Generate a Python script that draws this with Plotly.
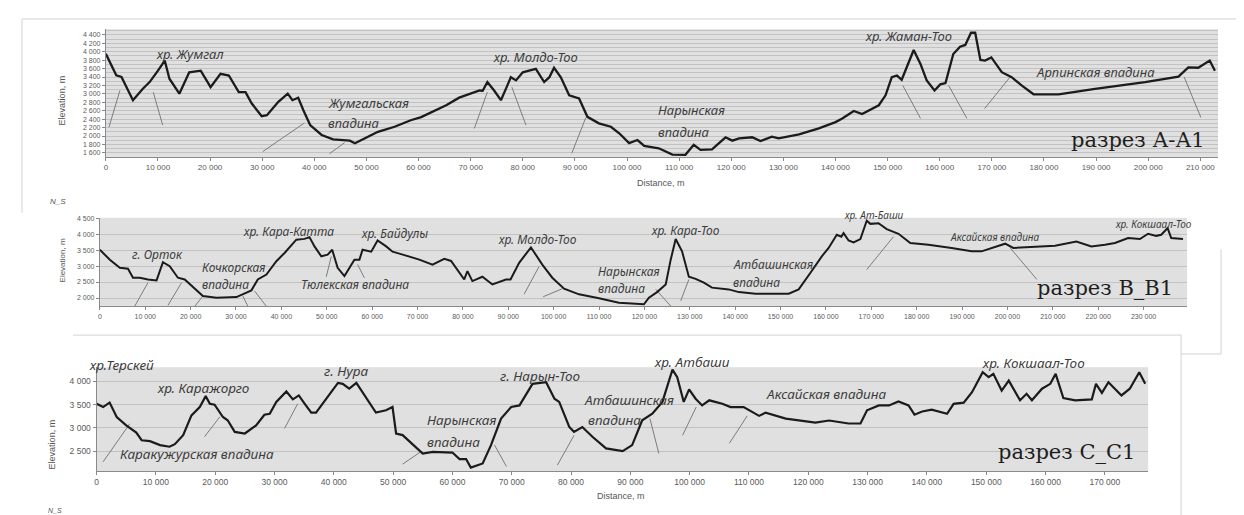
import plotly.graph_objects as go

W, H = 1244, 515

# ---------------- Panel A: разрез А-А1 ----------------
a_dist = [0, 2000, 3000, 5200, 7100, 8400, 10000, 11300, 12200, 14100, 16000, 18200, 20100, 22000,
          23600, 25500, 26800, 28000, 29900, 30900, 33100, 34900, 35800, 36900, 37900, 39200, 41400,
          43600, 46800, 47800, 50300, 52200, 55400, 58500, 60500, 62700, 65300, 67800, 70400, 71700,
          72300, 73200, 74500, 75800, 76900, 77700, 78700, 80000, 81200, 82500, 84100, 85100, 86000,
          87300, 88900, 90800, 92400, 94600, 96900, 98500, 100400, 102000, 103300, 106100, 108700,
          111200, 112800, 114100, 116300, 118900, 120200, 121500, 124000, 125600, 127800, 129100,
          133000, 136800, 140000, 141300, 143500, 145100, 148300, 149600, 150800, 151800, 152700,
          155000, 156300, 157500, 159000, 160100, 161100, 162600, 163900, 164900, 166000, 166800,
          167800, 168700, 169900, 171900, 173800, 175700, 178000, 182800, 189800, 199400, 205800,
          207700, 209600, 211800, 212800]
a_elev = [3950, 3440, 3400, 2850, 3120, 3280, 3550, 3790, 3360, 3005, 3510, 3550, 3160, 3475,
          3435, 3040, 3040, 2770, 2470, 2495, 2810, 3005, 2850, 2910, 2610, 2260, 2025,
          1920, 1890, 1830, 1985, 2100, 2220, 2375, 2450, 2570, 2730, 2910, 3020, 3080,
          3075, 3280, 3080, 2850, 3160, 3395, 3320, 3510, 3550, 3595, 3280, 3395, 3620,
          3395, 2965, 2890, 2455, 2300, 2220, 2065, 1830, 1905, 1765, 1710, 1560,
          1555, 1790, 1670, 1685, 1970, 1890, 1945, 1970, 1880, 1985, 1945,
          2040, 2180, 2330, 2415, 2595, 2520, 2730, 2965, 3395, 3435, 3335,
          4040, 3710, 3320, 3080, 3225, 3255, 3945, 4120, 4160, 4450, 4450,
          3805, 3790, 3865, 3515, 3395, 3200, 2990, 2990, 3120, 3280, 3410,
          3630, 3620, 3790, 3550]
a_leaders = [(2700, 3080, 600, 2210), (9100, 3040, 10900, 2260), (38100, 2310, 30100, 1630),
             (45800, 1840, 42900, 1580), (73200, 3040, 70700, 2180), (77900, 3160, 80600, 2260),
             (92100, 2440, 89400, 1590), (152900, 3200, 156300, 2420), (161700, 3200, 165200, 2420),
             (173500, 3400, 168600, 2650), (206900, 3400, 210100, 2440)]
a_labels = [("хр. Жумгал", 16100, 3950, "center"), ("Жумгальская", 42300, 2777, "left"),
            ("впадина", 42300, 2306, "left"), ("хр. Молдо-Тоо", 82500, 3870, "center"),
            ("Нарынская", 105600, 2612, "left"), ("впадина", 105600, 2101, "left"),
            ("хр. Жаман-Тоо", 154000, 4380, "center"), ("Арпинская впадина", 189800, 3530, "center")]

# ---------------- Panel B: разрез В_В1 ----------------
b_dist = [0, 2200, 4400, 6200, 7300, 8800, 10600, 12500, 13900, 15400, 17200, 18700, 22700, 25700,
          30100, 32600, 33400, 34800, 36700, 38900, 40700, 43300, 45100, 46200, 47300, 48800, 50200,
          51200, 52400, 53900, 56100, 57200, 57900, 59800, 61200, 63100, 64500, 66000, 70400, 73300,
          75900, 77400, 80300, 81000, 82100, 84300, 86500, 89500, 90500, 92400, 95000, 97500, 99700,
          102300, 105600, 110000, 114400, 119900, 121000, 122800, 124700, 125800, 126900, 128300,
          129800, 131300, 133100, 134900, 138600, 140800, 144500, 151800, 154000, 156600, 159100,
          160600, 162400, 163400, 163900, 165000, 166100, 167600, 169000, 169800, 171600, 173400,
          176000, 178600, 182600, 187700, 192100, 194300, 197300, 199500, 201300, 204600, 210500,
          215200, 218500, 221500, 223700, 226600, 229200, 231000, 232800, 233900, 235300, 236100,
          238700]
b_elev = [3510, 3200, 2945, 2915, 2635, 2635, 2580, 2550, 3120, 2995, 2635, 2580, 2060, 2010,
          2030, 2200, 2240, 2580, 2735, 3150, 3410, 3825, 3850, 3905, 3615, 3305, 3355,
          3510, 2945, 2685, 3200, 3200, 3510, 3450, 3800, 3615, 3450, 3390, 3200, 3045,
          3225, 3160, 2580, 2840, 2530, 2665, 2425, 2580, 2580, 3100, 3585, 3045, 2635,
          2290, 2115, 1990, 1855, 1805, 2010, 2185, 2425, 3200, 3845, 3460,
          2665, 2600, 2480, 2325, 2270, 2185, 2135, 2135, 2270, 2790, 3305,
          3565, 3980, 3920, 4030, 3800, 3740, 3845, 4420, 4320, 4340, 4155,
          4010, 3720, 3670, 3565, 3460, 3460, 3595, 3700, 3565, 3585, 3635,
          3770, 3615, 3670, 3720, 3875, 3845, 4010, 3945, 3980, 4185, 3875,
          3845]
b_leaders = [(10600, 2480, 7700, 1750), (18000, 2480, 15000, 1770), (22700, 2060, 20900, 1740),
             (31500, 2060, 32600, 1750), (34100, 2220, 36700, 1740), (51000, 3300, 49900, 2670),
             (56800, 3050, 58300, 2630), (96800, 2990, 93500, 2120), (101900, 2290, 97700, 2040),
             (122500, 2270, 125800, 1750), (129800, 2580, 128000, 1910), (174900, 3920, 169000, 2890),
             (200600, 3570, 206500, 2580)]
b_labels = [("г. Орток", 12650, 3360, "center"), ("Кочкорская", 22000, 2944, "left"),
            ("впадина", 22000, 2425, "left"), ("хр. Кара-Катта", 41600, 4080, "center"),
            ("хр. Байдулы", 64900, 4030, "center"), ("Тюлекская впадина", 56300, 2425, "center"),
            ("хр. Молдо-Тоо", 96400, 3820, "center"), ("Нарынская", 109300, 2839, "left"),
            ("впадина", 109300, 2291, "left"), ("хр. Кара-Тоо", 129100, 4110, "center"),
            ("Атбашинская", 139000, 3046, "left"), ("впадина", 139000, 2497, "left")]
b_small_labels = [("хр. Ат-Баши", 170700, 4600), ("Аксайская впадина", 197300, 3905),
                  ("хр. Кокшаал-Тоо", 232100, 4320)]

# ---------------- Panel C: разрез С_С1 ----------------
c_dist = [0, 1100, 2200, 3400, 5000, 6700, 7600, 9000, 10700, 12300, 13200, 14600, 16000, 17400,
          18400, 19100, 19900, 21300, 22100, 23300, 25000, 26900, 28300, 29200, 30300, 32000, 33100,
          34100, 35100, 36200, 37000, 38700, 40700, 41500, 42600, 43800, 45700, 47100, 48800, 49900,
          50500, 51600, 53300, 55000, 56700, 60000, 61200, 62300, 63100, 65100, 66500, 68200, 69900,
          71300, 73500, 75800, 77200, 78000, 79700, 80500, 81900, 83600, 85900, 88700, 90300, 92000,
          93700, 95400, 97100, 97900, 99000, 99900, 101000, 102100, 103300, 105500, 106900, 109100,
          111700, 112800, 116200, 121200, 123500, 126800, 128800, 129900, 131900, 133600, 135200,
          136900, 137900, 139200, 140800, 143400, 144500, 146200, 147600, 149400, 150400, 151200,
          152600, 153800, 155700, 156800, 157700, 159400, 160800, 161700, 163000, 165000, 167800,
          168500, 169500, 170600, 172800, 174200, 175800, 176800]
c_elev = [3520, 3450, 3545, 3235, 3055, 2900, 2735, 2715, 2630, 2595, 2650, 2845, 3270, 3450,
          3685, 3520, 3500, 3235, 3165, 2915, 2880, 3055, 3285, 3305, 3560, 3785, 3615,
          3700, 3520, 3330, 3330, 3630, 3970, 3950, 3845, 3970, 3595, 3330, 3380, 3450,
          2880, 2845, 2645, 2450, 2485, 2470, 2330, 2330, 2145, 2235, 2630, 3200, 3450,
          3485, 3950, 3985, 3630, 3560, 3020, 2915, 3020, 2810, 2560, 2500, 2630, 3165,
          3305, 3560, 4255, 4095, 3560, 3830, 3630, 3485, 3595, 3520, 3450, 3450,
          3260, 3330, 3200, 3115, 3160, 3095, 3095, 3380, 3485, 3485, 3570,
          3485, 3285, 3355, 3395, 3305, 3520, 3545, 3770, 4200, 4095, 4165,
          3805, 4020, 3595, 3735, 3595, 3845, 3950, 4165, 3645, 3595, 3615,
          3950, 3755, 3985, 3700, 3845, 4200, 3950]
c_leaders = [(5600, 3090, 1100, 2270), (20800, 3240, 18200, 2810), (33900, 3520, 31700, 2990),
             (54700, 2490, 51600, 2220), (67100, 2630, 69100, 2170), (80500, 2840, 77700, 2200),
             (93300, 3200, 94800, 2450), (101100, 3450, 98800, 2840), (109700, 3260, 106700, 2670)]
c_labels = [("хр.Терскей", 4210, 4355, "center"), ("хр. Каражорго", 18070, 3860, "center"),
            ("Каракужурская впадина", 16970, 2430, "center"), ("г. Нура", 42220, 4235, "center"),
            ("Нарынская", 55300, 3164, "left"), ("впадина", 55300, 2700, "left"),
            ("г. Нарын-Тоо", 74800, 4125, "center"), ("Атбашинская", 81900, 3593, "left"),
            ("впадина", 82500, 3164, "left"), ("хр. Атбаши", 100440, 4410, "center"),
            ("Аксайская впадина", 122900, 3735, "center"), ("хр. Кокшаал-Тоо", 157960, 4400, "center")]

section_titles = [("разрез А-А1", 198100, 1906, "x", "y"),
                  ("разрез В_В1", 221600, 2320, "x2", "y2"),
                  ("разрез С_С1", 163500, 2486, "x3", "y3")]

# ---------------- figure ----------------
def xdom(a, b):
    return [a / W, b / W]

def ydom(top, bot):
    return [1 - bot / H, 1 - top / H]

DOM_A, RNG_A = ydom(18.3, 146.7), [1506, 4534]
DOM_B, RNG_B = ydom(208, 297), [1742, 4510]
DOM_C, RNG_C = ydom(358.3, 462.7), [2072, 4308]
YMAP = {"y": (DOM_A, RNG_A), "y2": (DOM_B, RNG_B), "y3": (DOM_C, RNG_C)}

LINE = "#1b1b1b"
LEAD = "#7c7c7c"
TXT = "#3d3d3d"
ANN_FONT = "Noto Sans, DejaVu Sans, sans-serif"

fig = go.Figure()

def leader_trace(segs, xa, ya):
    xs, ys = [], []
    for x0, y0, x1, y1 in segs:
        xs += [x0, x1, None]
        ys += [y0, y1, None]
    return go.Scatter(x=xs, y=ys, mode="lines", line=dict(color=LEAD, width=1),
                      xaxis=xa, yaxis=ya, hoverinfo="skip", showlegend=False)

fig.add_trace(leader_trace(a_leaders, "x", "y"))
fig.add_trace(go.Scatter(x=a_dist, y=a_elev, mode="lines", line=dict(color=LINE, width=2.3),
                         xaxis="x", yaxis="y", showlegend=False))
fig.add_trace(leader_trace(b_leaders, "x2", "y2"))
fig.add_trace(go.Scatter(x=b_dist, y=b_elev, mode="lines", line=dict(color=LINE, width=2),
                         xaxis="x2", yaxis="y2", showlegend=False))
fig.add_trace(leader_trace(c_leaders, "x3", "y3"))
fig.add_trace(go.Scatter(x=c_dist, y=c_elev, mode="lines", line=dict(color=LINE, width=2.2),
                         xaxis="x3", yaxis="y3", showlegend=False))

annotations = []

def add_labels(labels, xr, yr, size):
    dom, rng = YMAP[yr]
    for t, x, y, al in labels:
        # labels above the axis range would be hidden by plotly: place them in paper y
        ypos = dom[0] + (y - rng[0]) / (rng[1] - rng[0]) * (dom[1] - dom[0])
        annotations.append(dict(text="<i>" + t + "</i>", x=x, y=ypos, xref=xr, yref="paper",
                                xanchor=al, yanchor="middle", showarrow=False,
                                font=dict(family=ANN_FONT, size=size, color=TXT)))

add_labels(a_labels, "x", "y", 13)
add_labels(b_labels, "x2", "y2", 12)
add_labels([(t, x, y, "center") for t, x, y in b_small_labels], "x2", "y2", 10)
add_labels(c_labels, "x3", "y3", 13.5)

for t, x, y, xr, yr in section_titles:
    annotations.append(dict(text=t, x=x, y=y, xref=xr, yref=yr, xanchor="center", yanchor="middle",
                            showarrow=False,
                            font=dict(family="DejaVu Serif, Liberation Serif, serif", size=21,
                                      color="#1e1e1e")))

def paper_text(t, px, py, size, angle=0, italic=False):
    s = "<i>" + t + "</i>" if italic else t
    annotations.append(dict(text=s, x=px / W, y=1 - py / H, xref="paper", yref="paper",
                            xanchor="center", yanchor="middle", showarrow=False, textangle=angle,
                            font=dict(family="Liberation Sans, Arial, sans-serif", size=size,
                                      color="#555")))

paper_text("Elevation, m", 53, 90, 9, -90)
paper_text("Elevation, m", 53, 251, 8, -90)
paper_text("Elevation, m", 43, 436, 9, -90)
paper_text("Distance, m", 652, 173, 9)
paper_text("Distance, m", 612, 488, 9)
paper_text("N_S", 48, 192, 8, italic=True)
paper_text("N_S", 45, 502, 7, italic=True)

shapes = []
def frame(x0, y0, x1, y1):
    shapes.append(dict(type="line", xref="paper", yref="paper", x0=x0 / W, y0=1 - y0 / H,
                       x1=x1 / W, y1=1 - y1 / H, line=dict(color="#d2d2d2", width=1)))

frame(12, 8, 1244, 8)
frame(12, 8, 12, 203)
frame(63, 326, 1173, 326)
frame(1173, 326, 1173, 515)
frame(1173, 345, 1213, 345)
frame(1213, 240, 1213, 345)

TICKF = dict(family="Liberation Sans, Arial, sans-serif", color="#5a5a5a")
GRID = "#c2c2c2"

def xax(dom, rng, anchor, size):
    return dict(domain=dom, range=rng, anchor=anchor, dtick=10000, tick0=0, tickformat=",",
                ticks="outside", ticklen=3, tickcolor="#888", showgrid=False, zeroline=False,
                showline=True, linecolor="#8a8a8a", tickfont=dict(size=size, **TICKF))

def yax(dom, rng, anchor, dtick, tick0, size, minor=None):
    d = dict(domain=dom, range=rng, anchor=anchor, dtick=dtick, tick0=tick0, tickformat=",",
             ticks="outside", ticklen=3, tickcolor="#888", showgrid=True, gridcolor=GRID,
             zeroline=False, showline=True, linecolor="#8a8a8a", tickfont=dict(size=size, **TICKF))
    if minor:
        d["minor"] = dict(dtick=minor, showgrid=True, gridcolor=GRID, ticks="")
    return d

fig.update_layout(
    width=W, height=H, autosize=False,
    margin=dict(l=0, r=0, t=0, b=0),
    paper_bgcolor="white", plot_bgcolor="#e0e0e0",
    separators=". ",
    showlegend=False,
    xaxis=xax(xdom(96, 1210), [0, 213400], "y", 8),
    yaxis=yax(DOM_A, RNG_A, "x", 200, 1600, 7, minor=100),
    xaxis2=xax(xdom(90, 1179), [0, 239600], "y2", 7),
    yaxis2=yax(DOM_B, RNG_B, "x2", 500, 2000, 7),
    xaxis3=xax(xdom(86.7, 1140), [0, 177300], "y3", 8.5),
    yaxis3=yax(DOM_C, RNG_C, "x3", 500, 2500, 8.5),
    annotations=annotations,
    shapes=shapes,
)

fig.write_html("out.html")
